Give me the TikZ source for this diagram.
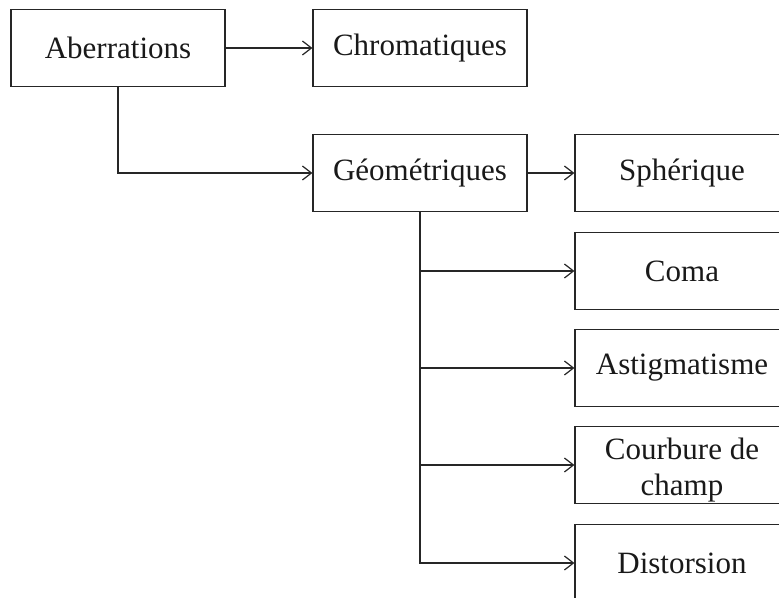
\documentclass[tikz,border=0pt]{standalone}
\usepackage{fontspec}
\setmainfont{Liberation Serif}
\usetikzlibrary{arrows.meta}
\begin{document}
\begin{tikzpicture}[x=1pt,y=-1pt,
  box/.style={draw=black!85,line width=1.2pt,rectangle,minimum width=214pt,minimum height=77pt,inner sep=0pt,
    align=center,font=\fontsize{31}{36}\selectfont,text=black!90},
  arr/.style={draw=black!85,line width=1.2pt,-{Straight Barb[length=9pt,width=14pt,line width=1.2pt]}}]
\useasboundingbox (0,0) rectangle (779,597);
\clip (0,0) rectangle (779,597);
\node[box] (ab) at (118,48) {Aberrations};
\node[box] (chr) at (420,48) {Chromatiques};
\node[box] (geo) at (420,173) {Géométriques};
\node[box] (sph) at (682,173) {Sphérique};
\node[box] (com) at (682,271) {Coma};
\node[box] (ast) at (682,368) {Astigmatisme};
\node[box] (cou) at (682,465) {\rule{0pt}{31pt}Courbure de\\champ};
\node[box] (dis) at (682,563) {Distorsion};
\draw[arr] (ab.east) -- (chr.west);
\draw[arr] (ab.south) |- (geo.west);
\draw[arr] (geo.east) -- (sph.west);
\draw[arr] (geo.south) |- (com.west);
\draw[arr] (geo.south) |- (ast.west);
\draw[arr] (geo.south) |- (cou.west);
\draw[arr] (geo.south) |- (dis.west);
\end{tikzpicture}
\end{document}
